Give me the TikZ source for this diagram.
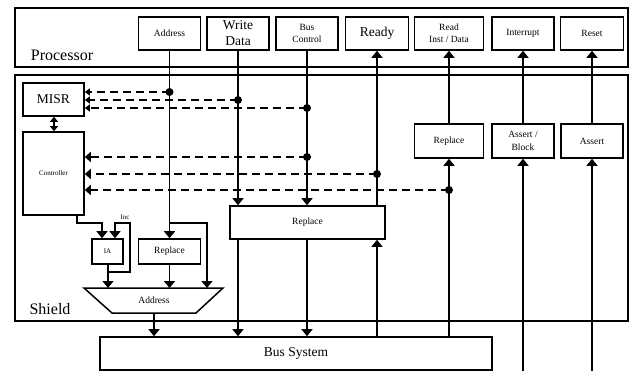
\documentclass[tikz,border=0pt]{standalone}
\usepackage{fontspec}
\setmainfont{Liberation Serif}
\usetikzlibrary{arrows.meta}
\begin{document}
\begin{tikzpicture}[x=1pt,y=-1pt,
  frame/.style={draw, line width=1.5pt},
  box/.style={draw, line width=1.6pt, fill=white, inner sep=0pt, align=center},
  big/.style={font=\fontsize{16}{18}\selectfont},
  med/.style={font=\fontsize{13.5}{15}\selectfont},
  sml/.style={font=\fontsize{9.5}{12.5}\selectfont},
  tiny/.style={font=\fontsize{7}{8}\selectfont},
  sig/.style={line width=1.5pt},
  arr/.style={sig, -{Triangle[width=11pt,length=7pt]}},
  darr/.style={line width=1.7pt, dash pattern=on 8pt off 5pt, -{Triangle[width=10pt,length=6pt]}},
  sarr/.style={line width=1.7pt, dash pattern=on 8pt off 5pt, -{Triangle[width=7pt,length=5pt]}},
  dot/.style={circle, fill=black, inner sep=0pt, minimum size=8pt}
]
\useasboundingbox (0,0) rectangle (634,371);

% frames
\draw[frame] (15,8) rectangle (628,67);
\draw[frame] (15,75) rectangle (628,321);
\node[big] (proc) at (62,55) {Processor};
\node[big] (shield) at (50,309) {Shield};

% processor boxes
\node[box, sml, minimum width=62pt, minimum height=33pt] (addr) at (169.5,33.5) {Address};
\node[box, minimum width=62pt, minimum height=33pt, font=\fontsize{13.5}{16}\selectfont] (wd) at (238,33.5) {Write\\Data};
\node[box, sml, minimum width=62pt, minimum height=33pt] (bc) at (307,33.5) {Bus\\Control};
\node[box, med, minimum width=63pt, minimum height=33pt] (ready) at (377,33.5) {Ready};
\node[box, sml, minimum width=69pt, minimum height=33pt] (read) at (449,33.5) {Read\\Inst / Data};
\node[box, sml, minimum width=62pt, minimum height=33pt] (intr) at (523,33.5) {Interrupt};
\node[box, sml, minimum width=63pt, minimum height=33pt] (reset) at (592,33.5) {Reset};

% shield boxes
\node[box, med, minimum width=61pt, minimum height=33pt] (misr) at (53.5,99.5) {MISR};
\node[box, tiny, minimum width=61pt, minimum height=83pt] (ctrl) at (53.5,173.5) {Controller};
\node[box, sml, minimum width=69pt, minimum height=34pt] (rrep) at (449,141) {Replace};
\node[box, sml, minimum width=62pt, minimum height=34pt] (ab) at (523,141) {Assert /\\Block};
\node[box, sml, minimum width=62pt, minimum height=34pt] (as) at (592,141) {Assert};
\node[box, sml, minimum width=155pt, minimum height=33pt] (mrep) at (307.5,222.5) {Replace};
\node[box, sml, minimum width=62pt, minimum height=25pt] (srep) at (169.5,251.5) {Replace};
\node[box, tiny, minimum width=31pt, minimum height=25pt] (ia) at (107.5,251.5) {IA};
\node[box, med, minimum width=392pt, minimum height=33pt] (bus) at (296,353.5) {Bus System};

% mux
\draw[line width=1.5pt] (84,288) -- (223,288) -- (196,313) -- (112,313) -- cycle;
\node[sml] (mux) at (154,300) {Address};
\coordinate (muxb) at (154,313);

% coordinates for dots
\coordinate (d1) at (169.5,92);
\coordinate (d2) at (238,100);
\coordinate (d3) at (307,108);
\coordinate (d4) at (307,157);
\coordinate (d5) at (377,174);
\coordinate (d6) at (449,190);

% vertical signals
\draw[arr] (addr.south) -- (srep.north);
\draw[arr] (wd.south -| 238,0) -- (mrep.north -| 238,0);
\draw[arr] (bc.south) -- (mrep.north -| 307,0);
\draw[arr] (bus.north -| 377,0) -- (mrep.south -| 377,0);
\draw[arr] (mrep.north -| 377,0) -- (ready.south);
\draw[arr] (bus.north -| 449,0) -- (rrep.south);
\draw[arr] (rrep.north) -- (read.south);
\coordinate (ibot) at (523,371);
\coordinate (rbot) at (592,371);
\draw[arr] (ibot) -- (ab.south);
\draw[arr] (ab.north) -- (intr.south);
\draw[arr] (rbot) -- (as.south);
\draw[arr] (as.north) -- (reset.south);
\draw[arr] (mrep.south -| 238,0) -- (bus.north -| 238,0);
\draw[arr] (mrep.south -| 307,0) -- (bus.north -| 307,0);
\draw[arr] (muxb) -- (bus.north -| muxb);
\draw[arr] (srep.south) -- (169.5,288);
\draw[arr] (169.5,223) -| (207,288);
\draw[arr] (ia.south -| 108,0) -- (108,288);
\draw[arr] (108,272) -| (130,223) -| (ia.north -| 115,0);
\draw[arr] (ctrl.south -| 77,0) |- (102,223) -- (ia.north -| 102,0);
\node[tiny] (inc) at (125,217) {Inc};
\draw[sig, {Triangle[width=8pt,length=5pt]}-{Triangle[width=8pt,length=5pt]}] (misr.south -| 54,0) -- (ctrl.north -| 54,0);

% dashed
\draw[sarr] (d1) -- (d1 -| misr.east);
\draw[sarr] (d2) -- (d2 -| misr.east);
\draw[sarr] (d3) -- (d3 -| misr.east);
\draw[darr] (d4) -- (d4 -| ctrl.east);
\draw[darr] (d5) -- (d5 -| ctrl.east);
\draw[darr] (d6) -- (d6 -| ctrl.east);

\foreach \d in {d1,d2,d3,d4,d5,d6} \node[dot] at (\d) {};
\end{tikzpicture}
\end{document}
